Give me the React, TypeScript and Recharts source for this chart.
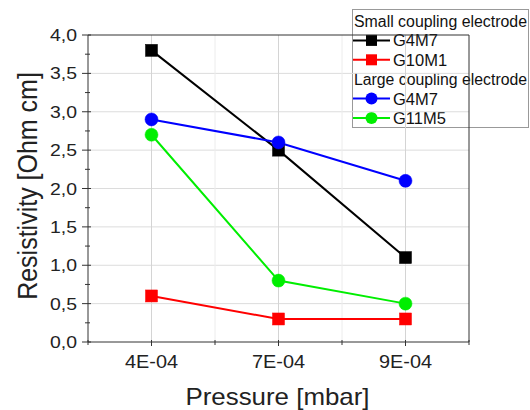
import React from 'react';
import { LineChart, Line, XAxis, YAxis, ReferenceLine, Customized } from 'recharts';

const categories = ['4E-04', '7E-04', '9E-04'];
const smallG4M7 = [3.8, 2.5, 1.1];
const smallG10M1 = [0.6, 0.3, 0.3];
const largeG4M7 = [2.9, 2.6, 2.1];
const largeG11M5 = [2.7, 0.8, 0.5];
const yTicks = [0, 0.25, 0.5, 0.75, 1, 1.25, 1.5, 1.75, 2, 2.25, 2.5, 2.75, 3, 3.25, 3.5, 3.75, 4];
const xTicks = [-0.5, 0, 0.5, 1, 1.5, 2, 2.5];

const data = categories.map((c, i) => ({
  idx: i,
  cat: c,
  sG4M7: smallG4M7[i],
  sG10M1: smallG10M1[i],
  lG4M7: largeG4M7[i],
  lG11M5: largeG11M5[i],
}));

const FONT = '"Liberation Sans", Arial, sans-serif';

const Square = (color: string) => (props: any) => {
  const { cx, cy, index } = props;
  if (cx == null || cy == null) return null;
  return <rect key={index} x={cx - 6} y={cy - 6} width={12} height={12} fill={color} stroke={color} strokeWidth={0.5} />;
};
const Circle = (color: string) => (props: any) => {
  const { cx, cy, index } = props;
  if (cx == null || cy == null) return null;
  return <circle key={index} cx={cx} cy={cy} r={6.5} fill={color} stroke={color} strokeWidth={0.5} />;
};

const YTick = (props: any) => {
  const { x, y, payload } = props;
  const v = payload.value as number;
  const major = Math.abs(v * 2 - Math.round(v * 2)) < 1e-6;
  return (
    <g>
      <line x1={major ? x - 6 : x - 3} x2={major ? x + 3 : x + 2} y1={y} y2={y} stroke="#333" strokeWidth={1} />
      {major && (
        <text x={x - 11} y={y} dy={6} textAnchor="end" fontSize={16.5} fontFamily={FONT} fill="#222"
          textLength={27} lengthAdjust="spacingAndGlyphs">
          {v.toFixed(1).replace('.', ',')}
        </text>
      )}
    </g>
  );
};

const XTick = (props: any) => {
  const { x, y, payload } = props;
  const v = payload.value as number;
  const major = Math.abs(v - Math.round(v)) < 1e-6;
  return (
    <g>
      <line x1={x} x2={x} y1={y - 2} y2={y + (major ? 4 : 3)} stroke="#333" strokeWidth={1} />
      {major && (
        <text x={x} y={y + 26} textAnchor="middle" fontSize={18} fontFamily={FONT} fill="#222"
          textLength={53} lengthAdjust="spacingAndGlyphs">
          {categories[Math.round(v)]}
        </text>
      )}
    </g>
  );
};

const XTitle = (props: any) => {
  const vb = props.viewBox || {};
  const cx = (vb.x ?? 88) + (vb.width ?? 381) / 2 - 1;
  return (
    <text x={cx} y={405} textAnchor="middle" fontSize={24} fontFamily={FONT} fill="#222"
      textLength={184} lengthAdjust="spacingAndGlyphs">
      Pressure [mbar]
    </text>
  );
};

const YTitle = () => (
  <text transform="translate(37,186) scale(1.1,1) rotate(-90)" x={0} y={0} textAnchor="middle" fontSize={25} fontFamily={FONT} fill="#222">
    Resistivity [Ohm cm]
  </text>
);

const legendRows = [
  { type: 'title', label: 'Small coupling electrode' },
  { type: 'square', color: '#000000', label: 'G4M7' },
  { type: 'square', color: '#ff0000', label: 'G10M1' },
  { type: 'title', label: 'Large coupling electrode' },
  { type: 'circle', color: '#0000ff', label: 'G4M7' },
  { type: 'circle', color: '#00ee00', label: 'G11M5' },
];

const LegendBox = () => (
  <g transform="translate(352,9)">
    <rect x={0.5} y={0.5} width={176} height={118} fill="#fff" stroke="#999" />
    {legendRows.map((r, i) => {
      const cy = 12 + i * 19.4;
      if (r.type === 'title') {
        return (
          <text key={i} x={2} y={cy + 6} fontSize={16} fontFamily={FONT} fill="#111"
            textLength={173} lengthAdjust="spacingAndGlyphs">
            {r.label}
          </text>
        );
      }
      return (
        <g key={i}>
          <line x1={1} x2={38} y1={cy} y2={cy} stroke={r.color} strokeWidth={2} />
          {r.type === 'square' ? (
            <rect x={14} y={cy - 5.5} width={11} height={11} fill={r.color} />
          ) : (
            <circle cx={19.5} cy={cy} r={6} fill={r.color} />
          )}
          <text x={41} y={cy + 6} fontSize={16.5} fontFamily={FONT} fill="#111">
            {r.label}
          </text>
        </g>
      );
    })}
  </g>
);

export default function App() {
  return (
    <div style={{ position: 'absolute', left: 0, top: 0, width: 530, height: 410, background: '#fff' }}>
      <LineChart width={530} height={410} data={data} margin={{ top: 35, right: 61, bottom: 0, left: 0 }}>
        {[0.5, 1, 1.5, 2, 2.5, 3, 3.5].map((v) => (
          <ReferenceLine key={'h' + v} y={v} stroke="#dcdcdc" strokeWidth={1} />
        ))}
        {[0.5, 1.5].map((v) => (
          <ReferenceLine key={'vm' + v} x={v} stroke="#ececec" strokeWidth={1} />
        ))}
        {[0, 1, 2].map((v) => (
          <ReferenceLine key={'v' + v} x={v} stroke="#d4d4d4" strokeWidth={1} />
        ))}
        <ReferenceLine y={4} stroke="#333" strokeWidth={1} />
        <ReferenceLine x={2.5} stroke="#333" strokeWidth={1} />
        <XAxis
          dataKey="idx"
          type="number"
          domain={[-0.5, 2.5]}
          ticks={xTicks}
          interval={0}
          height={68}
          tickSize={0}
          tickMargin={0}
          tickLine={false}
          axisLine={{ stroke: '#333', strokeWidth: 1 }}
          tick={<XTick />}
          label={<XTitle />}
        />
        <YAxis
          type="number"
          domain={[0, 4]}
          ticks={yTicks}
          interval={0}
          width={88}
          tickSize={0}
          tickMargin={0}
          tickLine={false}
          axisLine={{ stroke: '#333', strokeWidth: 1 }}
          tick={<YTick />}
          label={<YTitle />}
        />
        <Line dataKey="sG4M7" stroke="#000000" strokeWidth={2} dot={Square('#000000')} isAnimationActive={false} />
        <Line dataKey="sG10M1" stroke="#ff0000" strokeWidth={2} dot={Square('#ff0000')} isAnimationActive={false} />
        <Line dataKey="lG4M7" stroke="#0000ff" strokeWidth={2} dot={Circle('#0000ff')} isAnimationActive={false} />
        <Line dataKey="lG11M5" stroke="#00ee00" strokeWidth={2} dot={Circle('#00ee00')} isAnimationActive={false} />
        <Customized component={LegendBox} />
      </LineChart>
    </div>
  );
}
